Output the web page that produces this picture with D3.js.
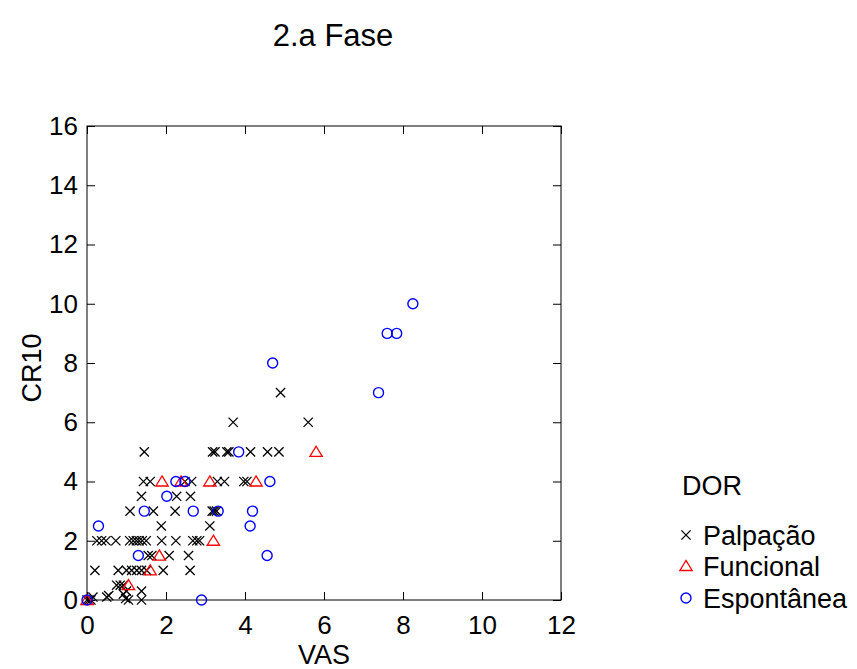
<!DOCTYPE html>
<html>
  <head>
    <meta charset="utf-8" />
    <title>2.a Fase</title>
    <script src="https://d3js.org/d3.v7.min.js"></script>
    <style>
      body { margin: 0; background: #fff; }
      text { font-family: "Liberation Sans", Arial, sans-serif; }
    </style>
  </head>
  <body>
    <svg id="chart"></svg>
    <script>
      // data: [VAS, CR10]
      const palpacao = [
        [3.7, 6], [5.6, 6], [4.9, 7],
        [1.45, 5], [3.18, 5], [3.24, 5], [3.54, 5], [3.59, 5], [4.14, 5], [4.57, 5], [4.86, 5],
        [1.43, 4], [1.6, 4], [2.48, 4], [2.65, 4], [3.3, 4], [3.48, 4], [3.97, 4], [4.05, 4],
        [1.38, 3.5], [2.27, 3.5], [2.62, 3.5],
        [1.09, 3], [1.68, 3], [2.23, 3], [3.17, 3], [3.22, 3], [3.28, 3],
        [1.88, 2.5], [3.11, 2.5],
        [0.25, 2], [0.37, 2], [0.48, 2], [0.73, 2], [1.08, 2], [1.17, 2], [1.25, 2], [1.32, 2],
        [1.4, 2], [1.5, 2], [1.89, 2], [2.25, 2], [2.68, 2], [2.78, 2], [2.85, 2],
        [1.55, 1.5], [1.64, 1.5], [2.08, 1.5], [2.57, 1.5],
        [0.2, 1], [0.79, 1], [1.0, 1], [1.13, 1], [1.26, 1], [1.38, 1], [1.51, 1], [1.93, 1], [2.61, 1],
        [0.75, 0.5], [0.84, 0.5], [0.92, 0.5],
        [0, 0], [0.05, 0], [0.1, 0], [0.15, 0.1], [0.5, 0.1], [0.55, 0.15],
        [0.92, 0.2], [0.98, 0.05], [1.05, 0], [1.0, 0.3], [1.38, 0.3], [1.38, 0]
      ];
      const funcional = [
        [5.8, 5], [1.9, 4], [2.38, 4], [3.11, 4], [4.28, 4], [3.2, 2],
        [1.83, 1.5], [1.6, 1], [1.05, 0.5], [0, 0]
      ];
      const espontanea = [
        [8.25, 10], [7.6, 9], [7.84, 9], [4.7, 8], [7.38, 7], [3.84, 5],
        [2.25, 4], [2.48, 4], [4.63, 4], [2.02, 3.5], [1.45, 3], [2.69, 3],
        [3.32, 3], [4.19, 3], [0.29, 2.5], [4.13, 2.5], [1.3, 1.5], [4.56, 1.5],
        [2.9, 0], [0, 0]
      ];
      const xTicks = [0, 2, 4, 6, 8, 10, 12];
      const yTicks = [0, 2, 4, 6, 8, 10, 12, 14, 16];
      const legendLabels = ["Palpação", "Funcional", "Espontânea"];

      const W = 857, H = 669;
      const plotL = 87, plotR = 561, plotT = 126, plotB = 600;

      const svg = d3.select("#chart").attr("width", W).attr("height", H);

      const x = d3.scaleLinear().domain([0, 12]).range([plotL, plotR]);
      const y = d3.scaleLinear().domain([0, 16]).range([plotB, plotT]);

      // title
      svg.append("text")
        .attr("x", 333).attr("y", 46)
        .attr("text-anchor", "middle")
        .attr("font-size", 31)
        .text("2.a Fase");

      // box
      svg.append("rect")
        .attr("x", plotL).attr("y", plotT)
        .attr("width", plotR - plotL).attr("height", plotB - plotT)
        .attr("fill", "none").attr("stroke", "#000").attr("stroke-width", 1);

      // axes, ticks inward
      const ax = svg.append("g").attr("transform", `translate(0,${plotB})`)
        .call(d3.axisBottom(x).tickValues(xTicks).tickSize(-8).tickPadding(16));
      const axTop = svg.append("g").attr("transform", `translate(0,${plotT})`)
        .call(d3.axisTop(x).tickValues(xTicks).tickSize(-8).tickFormat(""));
      const ay = svg.append("g").attr("transform", `translate(${plotL},0)`)
        .call(d3.axisLeft(y).tickValues(yTicks).tickSize(-8).tickPadding(9));
      const ayRight = svg.append("g").attr("transform", `translate(${plotR},0)`)
        .call(d3.axisRight(y).tickValues(yTicks).tickSize(-8).tickFormat(""));

      [ax, axTop, ay, ayRight].forEach(function (g) {
        g.select(".domain").remove();
        g.selectAll("line").attr("stroke", "#000");
        g.selectAll("text")
          .attr("font-size", 26)
          .attr("fill", "#000")
          .attr("font-family", "Liberation Sans, Arial, sans-serif");
      });

      // axis labels
      svg.append("text")
        .attr("x", 324).attr("y", 664)
        .attr("text-anchor", "middle")
        .attr("font-size", 27)
        .text("VAS");
      svg.append("text")
        .attr("transform", "translate(41,368) rotate(-90)")
        .attr("text-anchor", "middle")
        .attr("font-size", 27)
        .text("CR10");

      // marker drawers
      function drawCross(g, cx, cy, s, color) {
        g.append("path")
          .attr("d", `M${cx - s},${cy - s}L${cx + s},${cy + s}M${cx - s},${cy + s}L${cx + s},${cy - s}`)
          .attr("stroke", color).attr("stroke-width", 1.3).attr("fill", "none");
      }
      function drawTriangle(g, cx, cy, s, color) {
        g.append("path")
          .attr("d", `M${cx},${cy - s}L${cx + s * 1.1},${cy + s * 0.8}L${cx - s * 1.1},${cy + s * 0.8}Z`)
          .attr("stroke", color).attr("stroke-width", 1.3).attr("fill", "none");
      }
      function drawCircle(g, cx, cy, r, color) {
        g.append("circle")
          .attr("cx", cx).attr("cy", cy).attr("r", r)
          .attr("stroke", color).attr("stroke-width", 1.4).attr("fill", "none");
      }

      const pts = svg.append("g");
      palpacao.forEach(function (d) { drawCross(pts, x(d[0]), y(d[1]), 4.6, "#000"); });
      funcional.forEach(function (d) { drawTriangle(pts, x(d[0]), y(d[1]), 5.6, "#ff0000"); });
      espontanea.forEach(function (d) { drawCircle(pts, x(d[0]), y(d[1]), 5, "#0000ff"); });

      // legend
      const lg = svg.append("g");
      lg.append("text").attr("x", 682).attr("y", 495).attr("font-size", 27).text("DOR");
      const rows = [535, 566, 598];
      drawCross(lg, 686, rows[0], 4.6, "#000");
      drawTriangle(lg, 686, rows[1], 5.6, "#ff0000");
      drawCircle(lg, 686, rows[2], 5, "#0000ff");
      legendLabels.forEach(function (t, i) {
        lg.append("text")
          .attr("x", 703).attr("y", rows[i] + 10)
          .attr("font-size", 27)
          .text(t);
      });
    </script>
  </body>
</html>
